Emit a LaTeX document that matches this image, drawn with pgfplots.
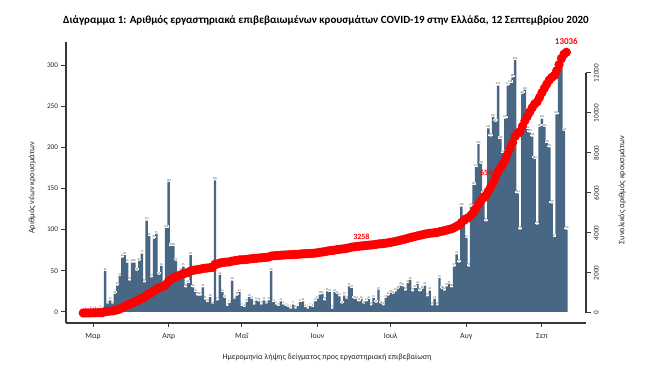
\documentclass[border=0pt]{standalone}
\usepackage{fontspec}
\setmainfont{Carlito}
\usepackage{pgfplots}
\usepackage{pgfplotstable}
\pgfplotsset{compat=1.18}
\definecolor{barblue}{RGB}{72,103,132}
\definecolor{axgray}{RGB}{55,55,55}
\definecolor{cumred}{RGB}{255,0,0}
\definecolor{lblgray}{RGB}{70,70,70}

\pgfplotstableread{
d n c
-4 1 1
-3 2 3
-2 1 4
-1 3 7
0 2 9
1 3 12
2 2 14
3 4 18
4 3 21
5 50 71
6 10 81
7 14 95
8 10 105
9 22 127
10 32 159
11 44 203
12 66 269
13 69 338
14 60 398
15 38 436
16 60 496
17 60 556
18 50 606
19 62 668
20 71 739
21 36 775
22 111 886
23 92 978
24 42 1020
25 89 1109
26 95 1204
27 45 1249
28 56 1305
29 34 1339
30 102 1441
31 158 1599
32 80 1679
33 80 1759
34 62 1821
35 40 1861
36 50 1911
37 55 1966
38 30 1996
39 35 2031
40 69 2100
41 30 2130
42 24 2154
43 20 2174
44 20 2194
45 30 2224
46 15 2239
47 12 2251
48 18 2269
49 10 2279
50 160 2439
51 14 2453
52 45 2498
53 24 2522
54 17 2539
55 7 2546
56 11 2557
57 38 2595
58 16 2611
59 20 2631
60 24 2655
61 7 2662
62 6 2668
63 12 2680
64 18 2698
65 16 2714
66 9 2723
67 14 2737
68 13 2750
69 9 2759
70 14 2773
71 10 2783
72 14 2797
73 50 2847
74 12 2859
75 9 2868
76 7 2875
77 13 2888
78 9 2897
79 7 2904
80 6 2910
81 4 2914
82 9 2923
83 4 2927
84 7 2934
85 12 2946
86 13 2959
87 6 2965
88 4 2969
89 7 2976
90 6 2982
91 13 2995
92 16 3011
93 21 3032
94 22 3054
95 14 3068
96 25 3093
97 24 3117
98 4 3121
99 24 3145
100 22 3167
101 19 3186
102 10 3196
103 20 3216
104 16 3232
105 31 3263
106 29 3292
107 16 3308
108 16 3324
109 13 3337
110 16 3353
111 10 3363
112 13 3376
113 16 3392
114 8 3400
115 17 3417
116 11 3428
117 27 3455
118 10 3465
119 8 3473
120 17 3490
121 20 3510
122 23 3533
123 22 3555
124 25 3580
125 28 3608
126 32 3640
127 31 3671
128 26 3697
129 35 3732
130 39 3771
131 25 3796
132 29 3825
133 34 3859
134 25 3884
135 28 3912
136 32 3944
137 19 3963
138 26 3989
139 8 3997
140 16 4013
141 8 4021
142 41 4062
143 28 4090
144 26 4116
145 31 4147
146 34 4181
147 30 4211
148 55 4266
149 70 4336
150 60 4396
151 128 4524
152 105 4629
153 90 4719
154 55 4774
155 128 4902
156 154 5056
157 176 5232
158 204 5436
159 180 5616
160 144 5760
161 110 5870
162 223 6093
163 213 6306
164 237 6543
165 231 6774
166 275 7049
167 210 7259
168 193 7452
169 235 7687
170 275 7962
171 278 8240
172 285 8525
173 306 8831
174 144 8975
175 100 9075
176 265 9340
177 270 9610
178 222 9832
179 218 10050
180 213 10263
181 186 10449
182 106 10555
183 225 10780
184 235 11015
185 225 11240
186 205 11445
187 200 11645
188 132 11777
189 91 11868
190 240 12108
191 308 12416
192 300 12716
193 220 12936
194 100 13036
}\data

\begin{document}
\begin{tikzpicture}[x=1pt,y=1pt]
\path[use as bounding box] (-66,-46) rectangle (601,323);
\begin{axis}[
  at={(0,0)}, anchor=south west,
  scale only axis, width=520pt, height=281pt,
  xmin=-11.07, xmax=202.05, ymin=-13.4, ymax=328,
  clip=false,
  axis x line*=bottom, axis y line*=left,
  axis line style={axgray, line width=1.2pt, -},
  xtick={0,31,61,92,122,153,184},
  xticklabels={Μαρ,Απρ,Μαΐ,Ιουν,Ιουλ,Αυγ,Σεπ},
  ytick={0,50,...,300},
  tick align=outside, major tick length=4.5pt,
  tick style={axgray, line width=1pt},
  xticklabel style={font=\fontsize{7.8}{9}\selectfont, text=black!85, yshift=-2pt},
  yticklabel style={font=\fontsize{7.2}{8}\selectfont, text=black!85},
  /pgf/number format/assume math mode=true,
  /pgf/number format/1000 sep={},
  scaled ticks=false,
]
\addplot[ybar, bar width=1, fill=barblue, draw=none,
  nodes near coords,
  every node near coord/.append style={font=\fontsize{2.8}{3.2}\selectfont, text=lblgray, fill=white, inner sep=0.2pt, anchor=south, yshift=0.3pt}]
  table[x=d, y=n] {\data};
\node[font=\bfseries\fontsize{8}{9}\selectfont, text=cumred] at (axis cs:162,168.8) {6543};
\end{axis}
\begin{axis}[
  at={(0,0)}, anchor=south west,
  scale only axis, width=520pt, height=281pt,
  xmin=-11.07, xmax=202.05, ymin=-500, ymax=13550,
  clip=false,
  axis x line=none, axis y line*=right,
  y axis line style={draw=none},
  ytick={0,2000,...,12000},
  scaled ticks=false,
  tick align=outside, major tick length=4.5pt,
  tick style={axgray, line width=1pt},
  yticklabel style={font=\fontsize{7.2}{8}\selectfont, text=black!85, rotate=90, anchor=north},
  /pgf/number format/assume math mode=true,
  /pgf/number format/1000 sep={},
]
\draw[axgray, line width=1.2pt] (axis cs:202.05,0) -- (axis cs:202.05,12000);
\addplot[cumred, line width=3.6pt, mark=*, mark size=2.7pt, mark options={fill=cumred, draw=none}]
  table[x=d, y=c] {\data};
\node[font=\bfseries\fontsize{8}{9}\selectfont, text=cumred] at (axis cs:110,3800) {3258};
\node[font=\bfseries\fontsize{9}{10}\selectfont, text=cumred] at (axis cs:194,13600) {13036};
\end{axis}
\node[font=\bfseries\fontsize{11}{13}\selectfont] at (260,303) {Διάγραμμα 1: Αριθμός εργαστηριακά επιβεβαιωμένων κρουσμάτων COVID-19 στην Ελλάδα, 12 Σεπτεμβρίου 2020};
\node[font=\fontsize{8}{10}\selectfont, text=black!85] at (261,-34) {Ημερομηνία λήψης δείγματος προς εργαστηριακή επιβεβαίωση};
\node[font=\fontsize{8.3}{10}\selectfont, text=black!85, rotate=90] at (-34,135) {Αριθμός νέων κρουσμάτων};
\node[font=\fontsize{8.3}{10}\selectfont, text=black!85, rotate=90] at (556,133) {Συνολικός αριθμός κρουσμάτων};
\end{tikzpicture}
\end{document}
